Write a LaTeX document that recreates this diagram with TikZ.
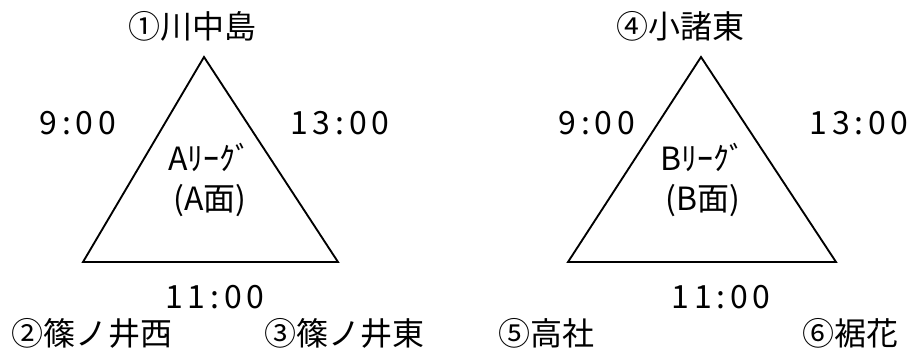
\documentclass[tikz,border=0pt]{standalone}
\usepackage{fontspec}
\setmainfont{Noto Sans CJK JP}
\newfontfamily\hora[LetterSpace=15]{Noto Sans CJK JP}
\usepackage{tikz}

\begin{document}
\begin{tikzpicture}[x=0.75pt, y=-0.75pt,
  every node/.style={font=\fontsize{24}{30}\selectfont, inner sep=0pt},
  tiempo/.style={font=\fontsize{24}{30}\selectfont\hora},
  lado/.style={draw, line width=1.4pt, line join=miter}]
  \useasboundingbox (0,0) rectangle (912,353);

  % Vertices
  \coordinate (a1) at (204,57);
  \coordinate (a2) at (83,262);
  \coordinate (a3) at (338,262);
  \coordinate (b1) at (701,57);
  \coordinate (b2) at (568,262);
  \coordinate (b3) at (836,262);

  % Triangulos
  \draw[lado] (a1) -- (a2) -- (a3) -- cycle;
  \draw[lado] (b1) -- (b2) -- (b3) -- cycle;

  % Liga A
  \node(t1) at (192,26) {①川中島};
  \node(t2) at (92,333) {②篠ノ井西};
  \node(t3) at (344,333) {③篠ノ井東};
  \node[tiempo](ha1) at (78,123) {9:00};
  \node[tiempo](ha2) at (340,123) {13:00};
  \node[tiempo](ha3) at (215,297) {11:00};
  \node[align=center](la) at (210,180) {Aﾘｰｸﾞ\\(A面)};

  % Liga B
  \node(t4) at (680,26) {④小諸東};
  \node(t5) at (546,333) {⑤高社};
  \node(t6) at (850,333) {⑥裾花};
  \node[tiempo](hb1) at (597,123) {9:00};
  \node[tiempo](hb2) at (859,123) {13:00};
  \node[tiempo](hb3) at (721,297) {11:00};
  \node[align=center](lb) at (703,180) {Bﾘｰｸﾞ\\(B面)};
\end{tikzpicture}
\end{document}
